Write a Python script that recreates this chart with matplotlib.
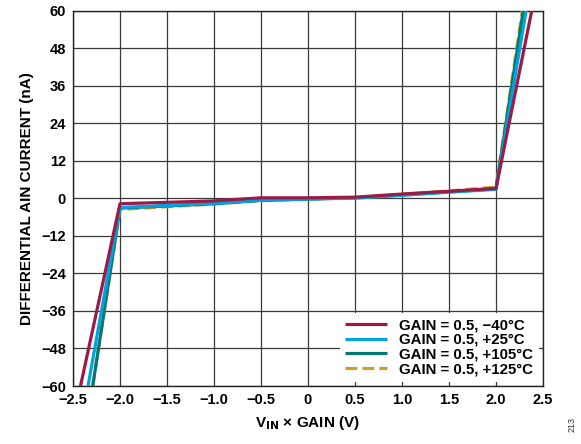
import matplotlib.pyplot as plt

plt.rcParams["font.family"] = ["Liberation Sans", "DejaVu Sans"]
plt.rcParams["font.weight"] = "bold"

# differential AIN current vs input voltage, one series per temperature
labels = ["GAIN = 0.5, \u221240\u00b0C", "GAIN = 0.5, +25\u00b0C",
          "GAIN = 0.5, +105\u00b0C", "GAIN = 0.5, +125\u00b0C"]

x_m40 = [-2.42, -2.0, -1.0, -0.5, 0.0, 0.5, 1.0, 1.5, 2.0, 2.38]
y_m40 = [-60, -1.7, -0.8, 0.2, 0.2, 0.4, 1.4, 2.3, 3.2, 60]

x_p25 = [-2.34, -2.0, -1.0, -0.5, 0.0, 0.5, 1.0, 1.5, 2.0, 2.32]
y_p25 = [-60, -2.9, -1.6, -0.6, -0.2, 0.1, 1.0, 2.0, 2.9, 60]

x_p105 = [-2.29, -2.0, -1.0, -0.5, 0.0, 0.5, 1.0, 1.5, 2.0, 2.29]
y_p105 = [-60, -3.1, -1.7, -0.6, -0.2, 0.2, 1.1, 2.1, 3.1, 60]

x_p125 = [-2.29, -2.0, -1.0, -0.5, 0.0, 0.5, 1.0, 1.5, 2.0, 2.28]
y_p125 = [-60, -3.5, -1.8, -0.7, -0.2, 0.3, 1.3, 2.4, 3.6, 60]

xticks = [-2.5, -2.0, -1.5, -1.0, -0.5, 0, 0.5, 1.0, 1.5, 2.0, 2.5]
yticks = list(range(-60, 61, 12))

colors = ["#9b1b48", "#00a3e0", "#007a70", "#c9a02f"]

fig = plt.figure(figsize=(5.81, 4.44), dpi=100)
ax = fig.add_axes([0.1256, 0.1306, 0.809, 0.845])

series = [(x_m40, y_m40), (x_p25, y_p25), (x_p105, y_p105), (x_p125, y_p125)]
handles = []
for i, (xs, ys) in enumerate(series):
    ls = "--" if i == 3 else "-"
    h, = ax.plot(xs, ys, color=colors[i], lw=2.3, ls=ls, label=labels[i],
                 zorder=10 - i, solid_capstyle="butt")
    handles.append(h)

ax.set_xlim(-2.5, 2.5)
ax.set_ylim(-60, 60)
ax.set_xticks(xticks)
ax.set_yticks(yticks)
ax.set_xticklabels([("%g" % v if v == 0 else "%.1f" % v).replace("-", "\u2212") for v in xticks])
ax.set_yticklabels([str(v).replace("-", "\u2212") for v in yticks])
ax.tick_params(length=0, labelsize=10.5, pad=5)
for t in ax.get_xticklabels() + ax.get_yticklabels():
    t.set_fontweight("bold")

ax.grid(True, color="#3a3a3a", lw=0.9)
for s in ax.spines.values():
    s.set_color("#222222")
    s.set_linewidth(1.0)

ax.set_xlabel("V$_{\\mathbf{IN}}$ \u00d7 GAIN (V)", fontsize=11, fontweight="bold", labelpad=5)
ax.set_ylabel("DIFFERENTIAL AIN CURRENT (nA)", fontsize=11, fontweight="bold", labelpad=5)

leg = ax.legend(handles=handles, loc="lower right", fontsize=10.8, frameon=True,
                framealpha=1, edgecolor="none", fancybox=False, borderpad=0.35,
                handlelength=2.8, handletextpad=0.8, labelspacing=0.05,
                borderaxespad=0.3)
leg.set_zorder(20)
for t in leg.get_texts():
    t.set_fontweight("bold")

fig.text(0.985, 0.045, "213", rotation=90, fontsize=6.5, fontweight="normal",
         ha="center", va="center", color="#333333")

fig.savefig("out.png", dpi=100)
